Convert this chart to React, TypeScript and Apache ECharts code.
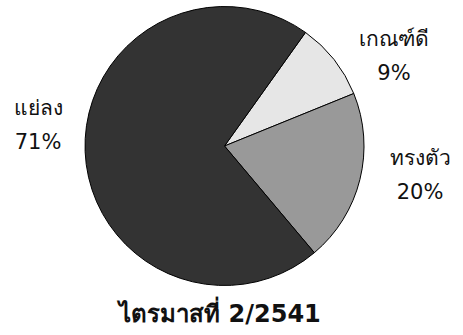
import React, { useEffect, useRef } from "react";
import * as echarts from "echarts";

// Quarterly outlook shares (percent)
const categories = ["เกณฑ์ดี", "ทรงตัว", "แย่ลง"];
const shares = [9, 20, 71];
const sliceColors = ["#e6e6e6", "#999999", "#333333"];
const periodTitle = "ไตรมาสที่ 2/2541";

// label block centres (pixels) for each slice
const labelSpots: [number, number][] = [
  [394, 56],
  [420, 175],
  [38, 125],
];

const FONT = "Tahoma, 'DejaVu Sans', sans-serif";

export default function App() {
  const ref = useRef<HTMLDivElement>(null);

  useEffect(() => {
    document.body.style.margin = "0";
    const chart = echarts.init(ref.current!, null, { renderer: "svg" });
    chart.setOption({
      animation: false,
      backgroundColor: "#ffffff",
      series: [
        {
          type: "pie",
          center: [224.5, 146],
          radius: 139.5,
          startAngle: 54.5,
          clockwise: true,
          avoidLabelOverlap: false,
          data: categories.map((name, i) => ({
            name,
            value: shares[i],
            itemStyle: { color: sliceColors[i] },
          })),
          itemStyle: { borderColor: "#000000", borderWidth: 1 },
          emphasis: { disabled: true },
          label: {
            show: true,
            position: "outside",
            formatter: "{b}\n{d}%",
            color: "#111111",
            fontFamily: FONT,
            fontSize: 21,
            lineHeight: 34,
            align: "center",
          },
          labelLine: { show: false },
          labelLayout: (p: any) => {
            const [x, y] = labelSpots[p.dataIndex];
            return { x, y, align: "center", verticalAlign: "middle" };
          },
        },
      ],
      graphic: [
        {
          type: "text",
          x: 220,
          y: 314,
          style: {
            text: periodTitle,
            fontFamily: FONT,
            fontSize: 24,
            fontWeight: "bold",
            fill: "#111111",
            textAlign: "center",
            textVerticalAlign: "middle",
          },
        },
      ],
    });
    return () => chart.dispose();
  }, []);

  return <div ref={ref} style={{ width: 463, height: 335 }} />;
}
